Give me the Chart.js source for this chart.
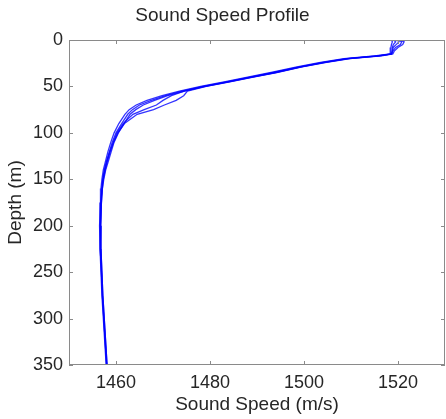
<!DOCTYPE html>
<html>
<head>
<meta charset="utf-8">
<script src="https://cdn.jsdelivr.net/npm/chart.js@4/dist/chart.umd.min.js"></script>
<style>
  body { margin: 0; background: #fff; }
</style>
</head>
<body>
<canvas id="ssp" width="446" height="419"></canvas>
<script>
// depth levels (m) shared by every cast
const depthLevels = [0, 2, 5, 8, 12, 15, 17, 20, 24, 29, 35, 40, 45, 50, 55, 60, 65, 70, 75, 80, 90, 100, 110, 120, 130, 140, 150, 160, 175, 200, 225, 250, 275, 300, 325, 350];

// sound speed (m/s) for each cast
const castA = [1519.0, 1519.5, 1519.0, 1518.8, 1518.7, 1518.6, 1515.5, 1509.0, 1504.0, 1499.0, 1493.5, 1488.5, 1483.5, 1478.5, 1474.0, 1470.5, 1467.5, 1465.0, 1463.5, 1462.5, 1461.2, 1460.0, 1459.2, 1458.6, 1458.0, 1457.5, 1457.2, 1457.0, 1456.8, 1456.6, 1456.7, 1456.9, 1457.1, 1457.4, 1457.7, 1458.0];
const castB = [1520.5, 1521.3, 1521.0, 1520.0, 1519.2, 1518.9, 1516.5, 1509.8, 1504.8, 1499.6, 1494.2, 1489.2, 1484.2, 1479.2, 1475.2, 1474.4, 1472.8, 1470.3, 1468.0, 1464.5, 1461.8, 1460.4, 1459.5, 1458.8, 1458.2, 1457.7, 1457.3, 1457.1, 1456.9, 1456.7, 1456.8, 1457.0, 1457.2, 1457.5, 1457.8, 1458.1];
const castC = [1520.0, 1520.8, 1520.5, 1519.5, 1518.9, 1518.7, 1516.0, 1509.3, 1504.3, 1499.3, 1493.8, 1488.8, 1483.8, 1478.8, 1474.5, 1471.8, 1470.0, 1468.6, 1466.0, 1463.6, 1461.5, 1460.2, 1459.4, 1458.7, 1458.1, 1457.6, 1457.2, 1457.0, 1456.8, 1456.6, 1456.7, 1456.9, 1457.1, 1457.4, 1457.7, 1458.0];
const castD = [1518.6, 1518.8, 1518.6, 1518.5, 1518.4, 1518.3, 1515.0, 1508.5, 1503.5, 1498.5, 1493.0, 1488.0, 1483.0, 1478.0, 1473.5, 1469.8, 1466.6, 1464.3, 1462.8, 1461.9, 1460.6, 1459.6, 1458.9, 1458.3, 1457.8, 1457.3, 1457.0, 1456.8, 1456.7, 1456.5, 1456.6, 1456.8, 1457.0, 1457.3, 1457.6, 1457.9];
const castE = [1519.8, 1520.2, 1519.6, 1519.0, 1518.8, 1518.6, 1516.0, 1509.5, 1504.5, 1499.4, 1494.0, 1489.0, 1484.0, 1479.0, 1474.6, 1471.0, 1468.2, 1465.8, 1464.2, 1463.0, 1461.7, 1460.5, 1459.6, 1459.0, 1458.4, 1457.8, 1457.4, 1457.1, 1456.9, 1456.7, 1456.8, 1457.0, 1457.2, 1457.5, 1457.8, 1458.1];

const xTicks = [1460, 1480, 1500, 1520];
const yTicks = [0, 50, 100, 150, 200, 250, 300, 350];

const casts = [castA, castB, castC, castD, castE];
const textColor = '#262626';
const frameColor = '#8a8a8a';
const fontFamily = 'Liberation Sans, Arial, sans-serif';

// box round the plot with MATLAB style inward ticks
const framePlugin = {
    id: 'frame',
    afterDraw(chart) {
        const { ctx, chartArea: a, scales: { x, y } } = chart;
        ctx.save();
        ctx.strokeStyle = frameColor;
        ctx.lineWidth = 1;
        ctx.strokeRect(a.left + 0.5, a.top + 0.5, a.right - a.left - 1, a.bottom - a.top - 1);
        ctx.beginPath();
        xTicks.forEach(v => {
            const px = Math.round(x.getPixelForValue(v)) + 0.5;
            ctx.moveTo(px, a.top); ctx.lineTo(px, a.top + 4);
            ctx.moveTo(px, a.bottom); ctx.lineTo(px, a.bottom - 4);
        });
        yTicks.forEach(v => {
            const py = Math.round(y.getPixelForValue(v)) + 0.5;
            ctx.moveTo(a.left, py); ctx.lineTo(a.left + 4, py);
            ctx.moveTo(a.right, py); ctx.lineTo(a.right - 4, py);
        });
        ctx.stroke();
        ctx.restore();
    }
};

const ctx = document.getElementById('ssp').getContext('2d');
new Chart(ctx, {
    type: 'scatter',
    data: {
        datasets: casts.map(c => ({
            data: c.map((s, i) => ({ x: s, y: depthLevels[i] })),
            showLine: true,
            borderColor: 'rgba(0,0,255,0.8)',
            borderWidth: 1.3,
            pointRadius: 0,
            tension: 0
        }))
    },
    options: {
        responsive: false,
        animation: false,
        layout: { padding: { left: 0, right: 1, top: 0, bottom: 0 } },
        plugins: {
            legend: { display: false },
            tooltip: { enabled: false },
            title: {
                display: true,
                text: 'Sound Speed Profile',
                color: textColor,
                font: { family: fontFamily, size: 19, weight: 'normal' },
                padding: { top: 4.6, bottom: 12.6 }
            }
        },
        scales: {
            x: {
                type: 'linear',
                min: 1450,
                max: 1530,
                afterBuildTicks: s => { s.ticks = xTicks.map(v => ({ value: v })); },
                afterFit: s => { s.height = 54; },
                grid: { display: false, drawTicks: false },
                border: { display: false },
                ticks: {
                    color: textColor,
                    padding: 7,
                    font: { family: fontFamily, size: 18 },
                    callback: v => String(v)
                },
                title: {
                    display: true,
                    text: 'Sound Speed (m/s)',
                    color: textColor,
                    font: { family: fontFamily, size: 19 },
                    padding: { top: 0, bottom: 2.6 }
                }
            },
            y: {
                type: 'linear',
                reverse: true,
                min: 0,
                max: 350,
                afterBuildTicks: s => { s.ticks = yTicks.map(v => ({ value: v })); },
                afterFit: s => { s.width = 69; },
                grid: { display: false, drawTicks: false },
                border: { display: false },
                ticks: {
                    color: textColor,
                    padding: 6,
                    font: { family: fontFamily, size: 18 },
                    callback: v => String(v)
                },
                title: {
                    display: true,
                    text: 'Depth (m)',
                    color: textColor,
                    font: { family: fontFamily, size: 19 },
                    padding: { top: 4.6, bottom: 0 }
                }
            }
        }
    },
    plugins: [framePlugin]
});
</script>
</body>
</html>
